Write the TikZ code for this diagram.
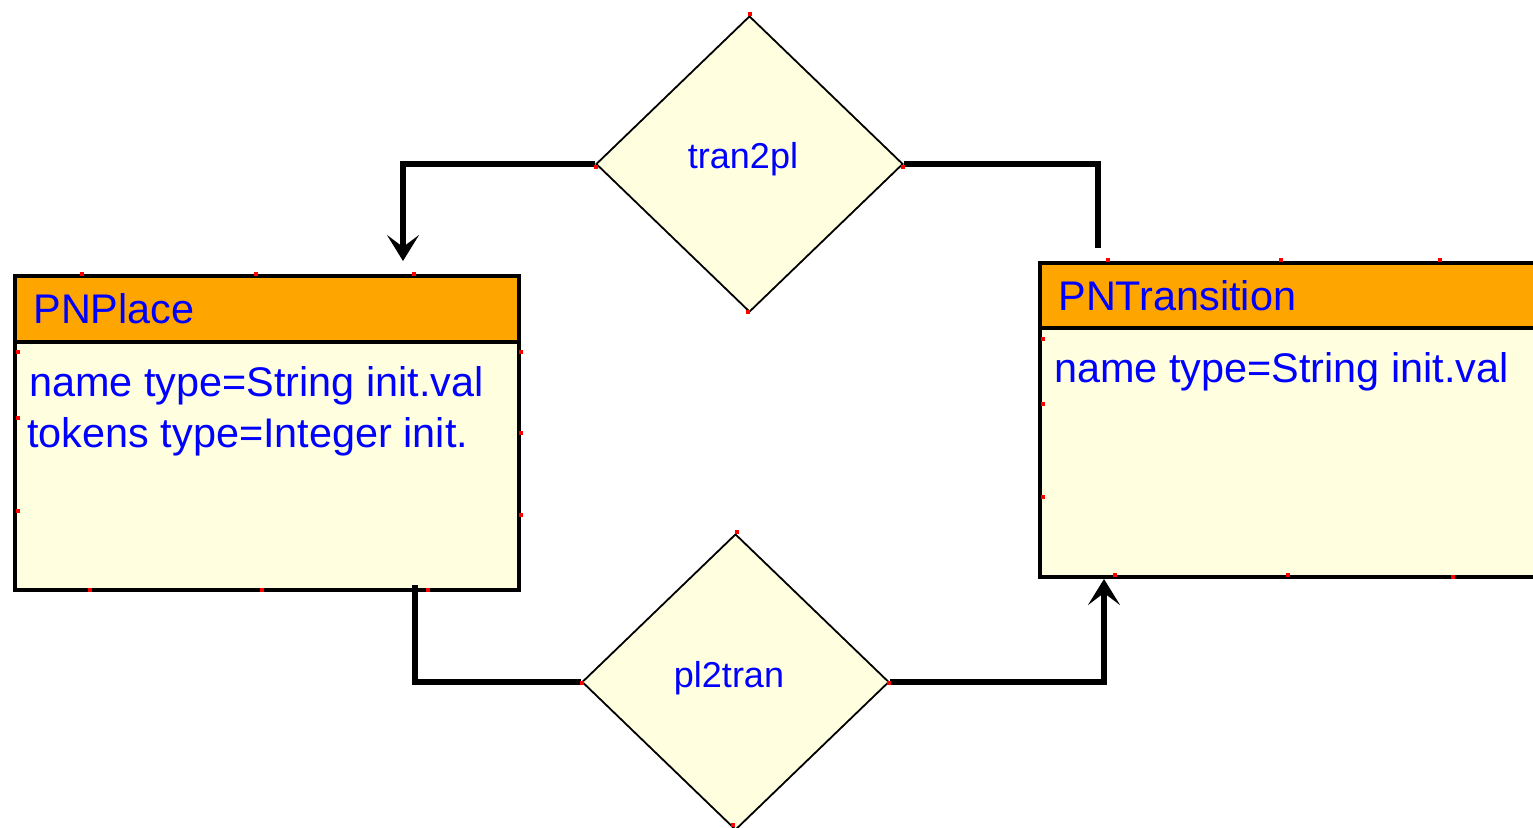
\documentclass[tikz,border=0pt]{standalone}
\usepackage{fontspec}
\setmainfont{Liberation Sans}
\usetikzlibrary{shapes.geometric,arrows.meta,calc}
\definecolor{hdr}{RGB}{255,165,0}
\definecolor{bodyfill}{RGB}{255,255,224}
\definecolor{txt}{RGB}{0,0,255}
\begin{document}
\begin{tikzpicture}[x=0.5pt,y=-0.5pt,
 box/.style={draw=black,line width=2pt,fill=bodyfill,rectangle,inner sep=0pt},
 head/.style={draw=black,line width=2pt,fill=hdr,rectangle,inner sep=0pt},
 rel/.style={draw=black,line width=0.9pt,fill=bodyfill,diamond,inner sep=0pt,minimum width=153.5pt,minimum height=148pt},
 dlbl/.style={text=txt,font=\fontsize{18}{22}\selectfont,inner sep=0pt},
 conn/.style={line width=2.6pt},
 tip/.style={-{Stealth[length=13pt,width=16pt,inset=6pt]}},
 lbl/.style={text=txt,font=\fontsize{20.7}{25}\selectfont,anchor=base west,inner sep=0pt}]
\useasboundingbox (0,0) rectangle (1533,827);
\clip (0,0) rectangle (1533,827);
% classes
\node[box,minimum width=252pt,minimum height=157pt] (place) at (267,433) {};
\node[head,minimum width=252pt,minimum height=33pt] (placehead) at (267,309) {};
\node[box,minimum width=250pt,minimum height=157pt] (trans) at (1290,420) {};
\node[head,minimum width=250pt,minimum height=32.5pt] (transhead) at (1290,295.5) {};
\node[lbl] (placetitle) at (33,323) {PNPlace};
\node[lbl] (placeattra) at (29,396) {name type=String init.val};
\node[lbl] (placeattrb) at (27,447) {tokens type=Integer init.};
\node[lbl] (transtitle) at (1058,310) {PNTransition};
\node[lbl] (transattra) at (1054,382) {name type=String init.val};
% relations
\node[rel] (tran) at (749.5,164) {};
\node[dlbl] (tranlabel) at (743,159) {tran2pl};
\node[rel] (pl) at (735.5,682) {};
\node[dlbl] (pllabel) at (729,678) {pl2tran};
% connectors
\draw[conn,tip] (tran.west) -| ($(place.north west)+(390,-13)$);
\draw[conn] (tran.east) -| ($(trans.north west)+(60,-13)$);
\draw[conn] ($(place.south west)+(402,-7)$) |- (pl.west);
\draw[conn,tip] (pl.east) -| ($(trans.south west)+(66,0)$);
% handles
\foreach \x/\y in {82/274,256/274,414/274,521/352,521/433,521/515,18/352,18/418,18/511,90/590,262/590,428/590,
  750/14,748/312,596/167,903/167,737/532,733/825,582/683,889/683,
  1108/260,1281/260,1440/260,1043/339,1043/404,1043/497,1115/575,1288/575,1453/577}
  \fill[red] (\x-2,\y-2) rectangle ++(4,4);
\end{tikzpicture}
\end{document}
